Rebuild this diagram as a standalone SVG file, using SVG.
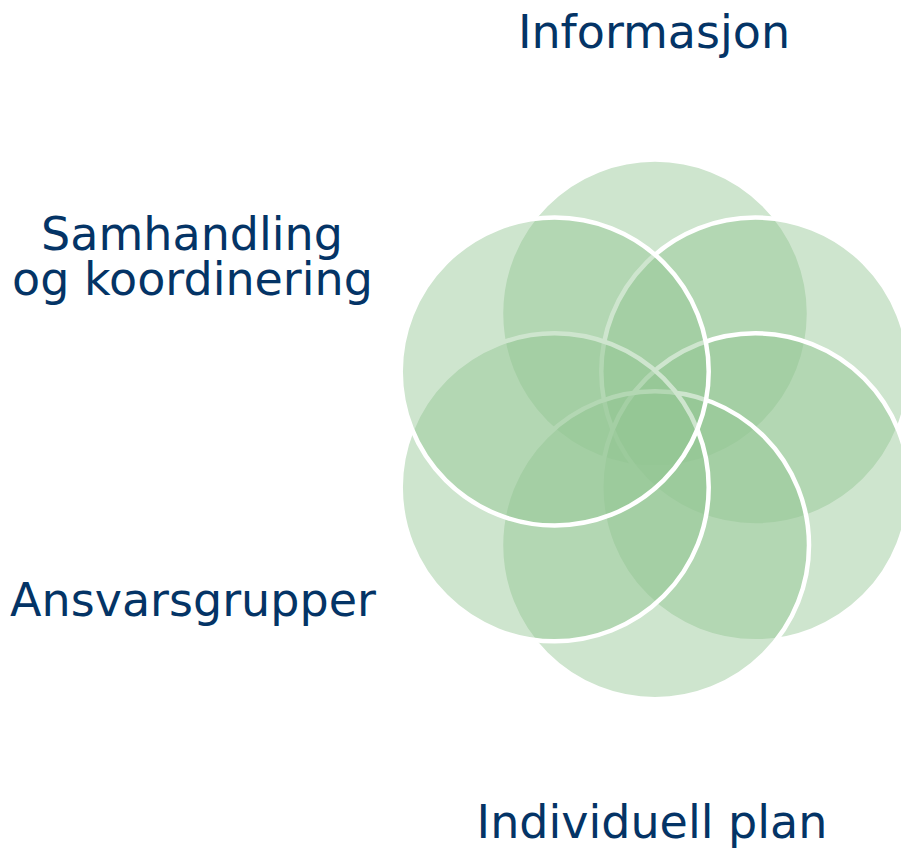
<svg xmlns="http://www.w3.org/2000/svg" width="901" height="849" viewBox="0 0 901 849">
<style>
.c{fill:rgb(146,197,146);fill-opacity:0.45;stroke:#ffffff;stroke-width:4.5}
.t{font-family:"DejaVu Sans","Verdana",sans-serif;font-size:46px;fill:#043466;text-anchor:middle}
</style>
<rect width="901" height="849" fill="#ffffff"/>
<g id="circles">
<circle id="c-top" class="c" cx="655" cy="313.6" r="154"/>
<circle id="c-ur" class="c" cx="755.3" cy="371.5" r="154"/>
<circle id="c-lr" class="c" cx="755.3" cy="487.3" r="154"/>
<circle id="c-bottom" class="c" cx="655" cy="545.2" r="154"/>
<circle id="c-ll" class="c" cx="554.7" cy="487.3" r="154"/>
<circle id="c-ul" class="c" cx="554.7" cy="371.5" r="154"/>
</g>
<g id="connectors"></g>
<g id="label-informasjon"><text class="t" x="654" y="47.5">Informasjon</text></g>
<g id="label-samhandling"><text class="t" x="192" y="249.5">Samhandling</text><text class="t" x="192.5" y="294.5">og koordinering</text></g>
<g id="label-ansvarsgrupper"><text class="t" x="193" y="615.5">Ansvarsgrupper</text></g>
<g id="label-individuell"><text class="t" x="652" y="837.5">Individuell plan</text></g>
</svg>
